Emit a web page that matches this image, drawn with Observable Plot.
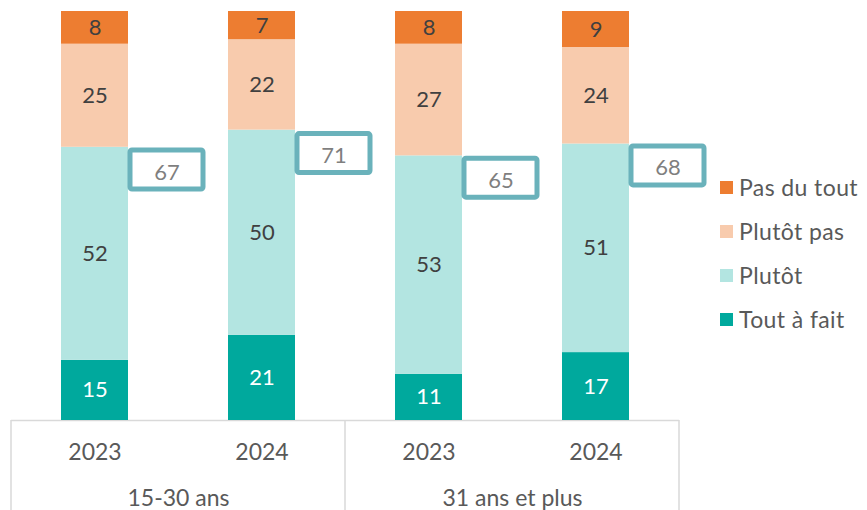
<!DOCTYPE html>
<html>
<head>
<meta charset="utf-8">
<script src="https://cdn.jsdelivr.net/npm/d3@7"></script>
<script src="https://cdn.jsdelivr.net/npm/@observablehq/plot@0.6"></script>
<style>
  html, body { margin: 0; padding: 0; background: #fff; }
  #wrap { position: relative; width: 867px; height: 510px; font-family: Lato, "Open Sans", sans-serif; }
  #legend { position: absolute; left: 720px; top: 165px; }
  .item { display: flex; align-items: center; height: 44px; font-size: 23px; letter-spacing: 0.4px; color: #595959; white-space: nowrap; }
  .sw { width: 13px; height: 13px; margin-right: 6px; flex: none; }
</style>
</head>
<body>
<div id="wrap"><div id="chart"></div><div id="legend"></div></div>
<script>
// Data
const groups = ["15-30 ans", "15-30 ans", "31 ans et plus", "31 ans et plus"];
const years = ["2023", "2024", "2023", "2024"];
const categories = ["Tout à fait", "Plutôt", "Plutôt pas", "Pas du tout"];
const colors = ["#00A99D", "#B3E5E1", "#F8CBAD", "#ED7D31"];
// segment sizes (unrounded estimates)
const toutAFait = [14.7, 20.8, 11.3, 16.6];
const plutot = [52.1, 50.2, 53.4, 51.0];
const plutotPas = [25.2, 22.1, 27.3, 23.6];
const pasDuTout = [8.0, 6.9, 8.0, 8.8];
// printed labels
const toutAFaitLabels = [15, 21, 11, 17];
const plutotLabels = [52, 50, 53, 51];
const plutotPasLabels = [25, 22, 27, 24];
const pasDuToutLabels = [8, 7, 8, 9];
const totals = [67, 71, 65, 68];

const series = [
  [toutAFait, toutAFaitLabels],
  [plutot, plutotLabels],
  [plutotPas, plutotPasLabels],
  [pasDuTout, pasDuToutLabels]
];
const rows = [];
groups.forEach((g, i) => {
  series.forEach(([vals, labs], k) => {
    rows.push({group: g, year: years[i], category: categories[k], value: vals[i], label: labs[i]});
  });
});
const totalRows = groups.map((g, i) => ({group: g, year: years[i], total: totals[i]}));

const W = 867, H = 510;
const plot = Plot.plot({
  width: W,
  height: H,
  marginTop: 11,
  marginBottom: 90,
  marginLeft: 11,
  marginRight: 188,
  style: {fontFamily: "Lato, 'Open Sans', sans-serif", fontSize: "22px", background: "white"},
  fx: {domain: ["15-30 ans", "31 ans et plus"], padding: 0, label: null},
  x: {domain: ["2023", "2024"], paddingInner: 0.6, paddingOuter: 0.3, label: null},
  y: {domain: [0, 100], axis: null},
  color: {domain: categories, range: colors},
  marks: [
    Plot.ruleY([0], {stroke: "#D9D9D9", strokeWidth: 1.5}),
    Plot.barY(rows, {fx: "group", x: "year", y: "value", fill: "category"}),
    Plot.text(rows, Plot.stackY({fx: "group", x: "year", y: "value",
      text: d => d.category === "Tout à fait" ? null : String(d.label), fill: "#404040", fontSize: 22})),
    Plot.text(rows, Plot.stackY({fx: "group", x: "year", y: "value",
      text: d => d.category === "Tout à fait" ? String(d.label) : null, fill: "white", fontSize: 22})),
    Plot.barY(totalRows, {fx: "group", x: "year", y1: "total", y2: "total",
      fill: "white", stroke: "#6AB2BB", strokeWidth: 5, rx: 2,
      dx: 72, insetLeft: -3, insetRight: -3, insetTop: 4, insetBottom: -43}),
    Plot.text(totalRows, {fx: "group", x: "year", y: "total", text: d => String(d.total),
      dx: 72, dy: 26, fill: "#7F7F7F", fontSize: 22}),
    Plot.axisX({anchor: "bottom", tickSize: 0, tickPadding: 23, fontSize: 23, color: "#595959", label: null}),
    Plot.axisFx({anchor: "bottom", tickSize: 0, tickPadding: 69, fontSize: 23, color: "#595959", label: null})
  ]
});

// group separators below the baseline
const fxs = plot.scale("fx");
const ys = plot.scale("y");
const y0 = ys.apply(0);
const edges = new Set();
fxs.domain.forEach(g => {
  const a = fxs.apply(g);
  edges.add(Math.round(a * 10) / 10);
  edges.add(Math.round((a + fxs.bandwidth) * 10) / 10);
});
const gsep = d3.select(plot).append("g");
[...edges].forEach(x => {
  gsep.append("line").attr("x1", x).attr("x2", x).attr("y1", y0).attr("y2", H)
    .attr("stroke", "#D9D9D9").attr("stroke-width", 1.5);
});

document.getElementById("chart").appendChild(plot);

// legend (top to bottom: reverse stacking order)
const legend = d3.select("#legend");
[...categories].reverse().forEach(c => {
  const it = legend.append("div").attr("class", "item");
  it.append("div").attr("class", "sw").style("background", colors[categories.indexOf(c)]);
  it.append("span").text(c);
});
</script>
</body>
</html>
